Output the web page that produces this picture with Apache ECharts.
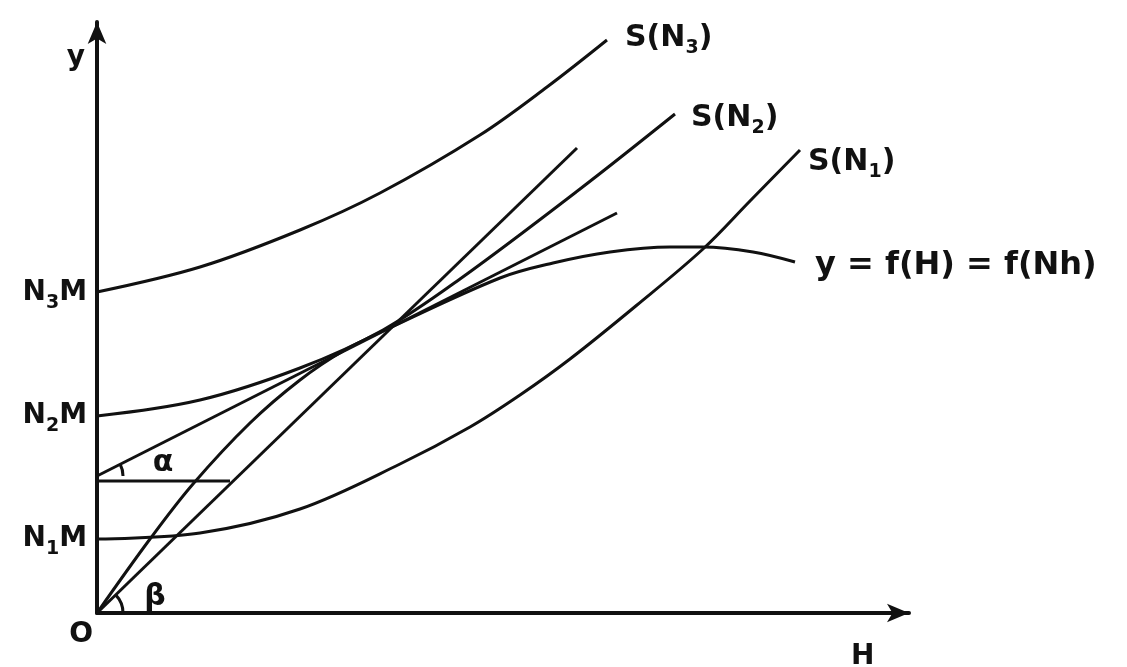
<!DOCTYPE html>
<html><head><meta charset="utf-8">
<script src="https://cdn.jsdelivr.net/npm/echarts@6/dist/echarts.min.js"></script>
<style>html,body{margin:0;padding:0;background:#fff}#c{width:1127px;height:667px}</style>
</head><body><div id="c"></div>
<script>
// Curves (H on x, y on y)
const sN3 = [[0,321],[103,346],[203,383],[283,420],[383,478],[450,526],[510,573]];
const sN2 = [[0,197],[103,213],[203,245],[286,283],[363,334],[483,424],[578,499]];
const sN1 = [[0,74],[103,80],[203,104],[303,149],[373,186],[423,218],[473,254],[540,308],[606,364],[653,412],[703,463]];
const fH  = [[0,0],[53,74],[96,129],[153,190],[203,233],[246,262],[286,282],[403,335],[456,350],[513,361],[573,366],[606,366],[656,361],[698,351]];
const rayBeta = [[0,0],[480,465]];
const tangentAlpha = [[0,137],[520,400]];
const alphaBase = [[0,132],[133,132]];
// Tick / text labels
const yTickValues = [74,197,320];
const yTickLabels = ['N{s|1}M','N{s|2}M','N{s|3}M'];
const xTickValues = [0];
const xTickLabels = ['O'];
const curveLabels = ['S(N{s|3})','S(N{s|2})','S(N{s|1})','y = f(H) = f(Nh)'];
const axisNames = ['H','y'];
// Angle markers: vertex + a point on the sloped arm (other arm horizontal)
const angleArcs = [[0,137,520,400],[0,0,480,465]];
const greekX = [66,58];
const greekY = [150,16];
const greekText = ['α','β'];

const INK = '#111';
const FONT = 'DejaVu Sans';
const baseText = {fontFamily:FONT,fontWeight:'bold',fontSize:28,color:INK,lineHeight:40};
const rich = {s:{fontFamily:FONT,fontWeight:'bold',fontSize:19,color:INK,lineHeight:20,verticalAlign:'bottom'}};

function curve(data, idx, offset, size){
  return {type:'line', data:data, smooth:0.35, symbol:'none', silent:true,
    lineStyle:{color:INK,width:3},
    endLabel:{show:true, formatter:()=>curveLabels[idx], offset:offset, align:'left', verticalAlign:'middle',
      ...baseText, fontSize:size, rich:rich}};
}
function straight(data){
  return {type:'line', data:data, symbol:'none', silent:true, lineStyle:{color:INK,width:3}};
}

const chart = echarts.init(document.getElementById('c'));
chart.setOption({
  animation:false,
  backgroundColor:'#fff',
  grid:{left:97, top:22, width:812, height:591, containLabel:false, outerBoundsMode:'none'},
  xAxis:{type:'value', min:0, max:812,
    axisLine:{show:true, symbol:['none','arrow'], symbolSize:[14,22], lineStyle:{color:INK,width:4}},
    axisTick:{show:false}, splitLine:{show:false},
    axisLabel:{customValues:xTickValues, formatter:v=>xTickLabels[xTickValues.indexOf(v)], align:'right', padding:[0,4,0,0], margin:2, ...baseText},
    name:axisNames[0], nameLocation:'end', nameGap:-58,
    nameTextStyle:{...baseText, align:'left', verticalAlign:'top', padding:[24,0,0,0]}},
  yAxis:{type:'value', min:0, max:591,
    axisLine:{show:true, symbol:['none','arrow'], symbolSize:[14,22], lineStyle:{color:INK,width:4}},
    axisTick:{show:false}, splitLine:{show:false},
    axisLabel:{customValues:yTickValues, formatter:v=>yTickLabels[yTickValues.indexOf(v)], margin:10, ...baseText, rich:rich},
    name:axisNames[1], nameLocation:'end', nameGap:-36,
    nameTextStyle:{...baseText, align:'right', verticalAlign:'middle', padding:[0,12,0,0]}},
  series:[
    curve(sN3,0,[10,-2],30),
    curve(sN2,1,[8,4],30),
    curve(sN1,2,[0,12],30),
    curve(fH,3,[12,4],32),
    straight(rayBeta),
    straight(tangentAlpha),
    straight(alphaBase),
    {type:'custom', silent:true, data:angleArcs, encode:{x:0,y:1},
      renderItem:(params, api)=>{
        const c = api.coord([api.value(0), api.value(1)]);
        const p = api.coord([api.value(2), api.value(3)]);
        const a = Math.atan2(p[1]-c[1], p[0]-c[0]);
        return {type:'arc', shape:{cx:c[0], cy:c[1], r:26, startAngle:a, endAngle:0, clockwise:true},
          style:{stroke:INK, lineWidth:3, fill:null}};
      }},
    {type:'scatter', silent:true, symbolSize:0, itemStyle:{color:INK},
      data:greekX.map((x,i)=>({value:[x,greekY[i]], name:greekText[i]})),
      label:{show:true, position:'right', distance:0, formatter:'{b}', ...baseText, fontSize:30,
        align:'center', verticalAlign:'middle', textBorderWidth:0, opacity:1}}
  ]
});
</script></body></html>
